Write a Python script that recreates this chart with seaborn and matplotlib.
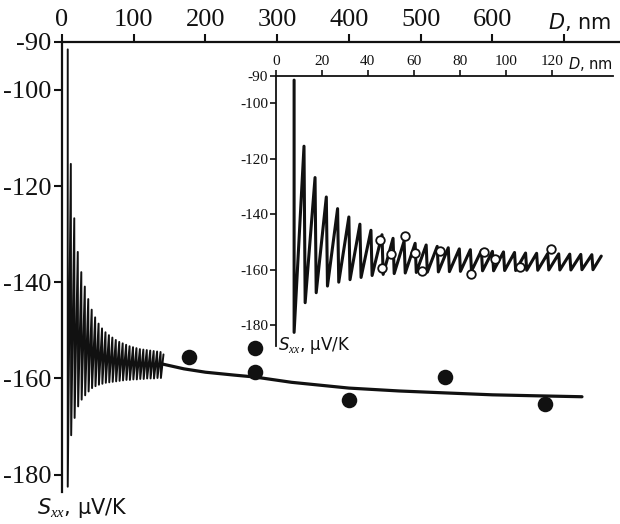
import matplotlib
matplotlib.use('Agg')
import matplotlib.pyplot as plt
import pandas as pd
import seaborn as sns

# ---- oscillating theory curve (sawtooth): peak / trough positions and values ----
peak_D = [8.0, 12.3, 17.1, 22.0, 26.9, 31.8, 36.6, 41.4, 46.2, 51.0, 55.8, 60.6, 65.4, 70.2,
          75.0, 79.8, 84.6, 89.4, 94.2, 99.0, 103.8, 108.6, 113.4, 118.2, 123.0, 127.8, 132.6, 137.4]
peak_S = [-91.6, -115.4, -126.7, -133.7, -137.9, -140.9, -143.5, -145.7, -147.3, -148.6, -149.6,
          -150.4, -151.0, -151.5, -152.0, -152.4, -152.7, -153.0, -153.3, -153.5, -153.7, -153.9,
          -154.0, -154.1, -154.2, -154.3, -154.4, -154.5]
trough_D = [8.0, 12.8, 17.6, 22.5, 27.4, 32.3, 37.1, 41.9, 46.7, 51.5, 56.3, 61.1, 65.9, 70.7,
            75.5, 80.3, 85.1, 89.9, 94.7, 99.5, 104.3, 109.1, 113.9, 118.7, 123.5, 128.3, 133.1, 137.9]
trough_S = [-182.5, -171.8, -168.2, -165.8, -164.4, -163.5, -162.7, -162.0, -161.6, -161.3, -161.1,
            -160.9, -160.8, -160.7, -160.6, -160.5, -160.4, -160.3, -160.3, -160.2, -160.2, -160.1,
            -160.1, -160.0, -160.0, -160.0, -159.9, -159.9]
end_D = 141.5
end_S = -155.0

# ---- smooth large-D theory curve ----
smooth_D = [140, 170, 200, 240, 269, 320, 400, 470, 534, 600, 660, 725]
smooth_S = [-157.0, -158.0, -158.7, -159.3, -159.7, -160.8, -162.0, -162.6, -163.0, -163.4, -163.6, -163.8]

# ---- experimental points (main, filled) ----
dot_D = [177, 269, 269, 400, 534, 674]
dot_S = [-155.6, -153.6, -158.6, -164.4, -159.6, -165.4]

# ---- experimental points (inset, open) ----
circ_D = [45.4, 46.1, 50.0, 56.3, 60.6, 63.5, 71.4, 84.8, 90.5, 95.5, 106.0, 119.8]
circ_S = [-149.2, -159.4, -154.4, -147.6, -154.0, -160.3, -153.0, -161.4, -153.6, -156.0, -159.1, -152.4]

# tick labels
main_xticks = [0, 100, 200, 300, 400, 500, 600, 700]
main_xlabels = ['0', '100', '200', '300', '400', '500', '600', '']
main_yticks = [-90, -100, -120, -140, -160, -180]
inset_xticks = [0, 20, 40, 60, 80, 100, 120]
inset_yticks = [-90, -100, -120, -140, -160, -180]

# build zigzag table
zx, zy = [], []
for a, b, c, d in zip(peak_D, peak_S, trough_D, trough_S):
    zx += [a, c]
    zy += [b, d]
zx.append(end_D)
zy.append(end_S)
zig = pd.DataFrame({'D': zx, 'S': zy})
smooth = pd.DataFrame({'D': smooth_D, 'S': smooth_S})
dots = pd.DataFrame({'D': dot_D, 'S': dot_S})
circs = pd.DataFrame({'D': circ_D, 'S': circ_S})

sns.set_style('ticks')
plt.rcParams['font.family'] = ['Liberation Serif', 'DejaVu Serif']
plt.rcParams['mathtext.fontset'] = 'custom'
plt.rcParams['mathtext.it'] = 'DejaVu Sans:italic'
plt.rcParams['mathtext.rm'] = 'DejaVu Sans'
plt.rcParams['mathtext.cal'] = 'Liberation Serif:italic'

W, H = 620, 524
fig = plt.figure(figsize=(W / 100, H / 100), dpi=100)

# ---------------- main axes ----------------
ax = fig.add_axes([62 / W, 1 - 492 / H, (W - 62) / W, (492 - 41.7) / H])
sns.lineplot(data=zig, x='D', y='S', sort=False, estimator=None, ax=ax,
             color='#111111', lw=1.4)
sns.lineplot(data=smooth, x='D', y='S', sort=False, estimator=None, ax=ax,
             color='#111111', lw=2.3)
sns.scatterplot(data=dots, x='D', y='S', ax=ax, s=125, color='#111111',
                edgecolor='#111111', linewidth=0, zorder=5)
ax.set_xlim(0, 778)
ax.set_ylim(-183.6, -90)
ax.xaxis.tick_top()
ax.set_xticks(main_xticks)
ax.set_xticklabels(main_xlabels)
ax.set_yticks(main_yticks)
ax.set_yticklabels([str(v) for v in main_yticks])
for s in ['right', 'bottom']:
    ax.spines[s].set_visible(False)
for s in ['top', 'left']:
    ax.spines[s].set_linewidth(1.6)
    ax.spines[s].set_color('#111111')
ax.tick_params(axis='both', direction='out', length=6, width=1.5, labelsize=19,
               colors='#111111', pad=1.5)
ax.set_xlabel('')
ax.set_ylabel('')
ax.set_facecolor('none')

fig.text(611 / W, 1 - 22 / H, r'$D$, nm', ha='right', va='center', fontsize=15,
         family='DejaVu Sans', color='#111111')
fig.text(37 / W, 1 - 508 / H, r'$S_{\mathcal{xx}}$, μV/K', ha='left', va='center',
         fontsize=15, family='DejaVu Sans', color='#111111')

# ---------------- inset axes ----------------
axi = fig.add_axes([275.7 / W, 1 - 346 / H, (613 - 275.7) / W, (346 - 75.7) / H])
sns.lineplot(data=zig, x='D', y='S', sort=False, estimator=None, ax=axi,
             color='#111111', lw=2.2)
sns.scatterplot(data=circs, x='D', y='S', ax=axi, s=38, color='white',
                edgecolor='#111111', linewidth=1.3, zorder=5)
axi.set_xlim(0, 146.6)
axi.set_ylim(-187.4, -90)
axi.xaxis.tick_top()
axi.set_xticks(inset_xticks)
axi.set_xticklabels([str(v) for v in inset_xticks])
axi.set_yticks(inset_yticks)
axi.set_yticklabels([str(v) for v in inset_yticks])
for s in ['right', 'bottom']:
    axi.spines[s].set_visible(False)
for s in ['top', 'left']:
    axi.spines[s].set_linewidth(1.3)
    axi.spines[s].set_color('#111111')
axi.tick_params(axis='both', direction='out', length=4, width=1.2, labelsize=11,
                colors='#111111', pad=1.5)
axi.set_xlabel('')
axi.set_ylabel('')
axi.set_facecolor('none')

fig.text(613 / W, 1 - 64 / H, r'$D$, nm', ha='right', va='center', fontsize=10.5,
         family='DejaVu Sans', color='#111111')
fig.text(278 / W, 1 - 345 / H, r'$S_{\mathcal{xx}}$, μV/K', ha='left', va='center',
         fontsize=12, family='DejaVu Sans', color='#111111')

fig.savefig('out.png', dpi=100)
